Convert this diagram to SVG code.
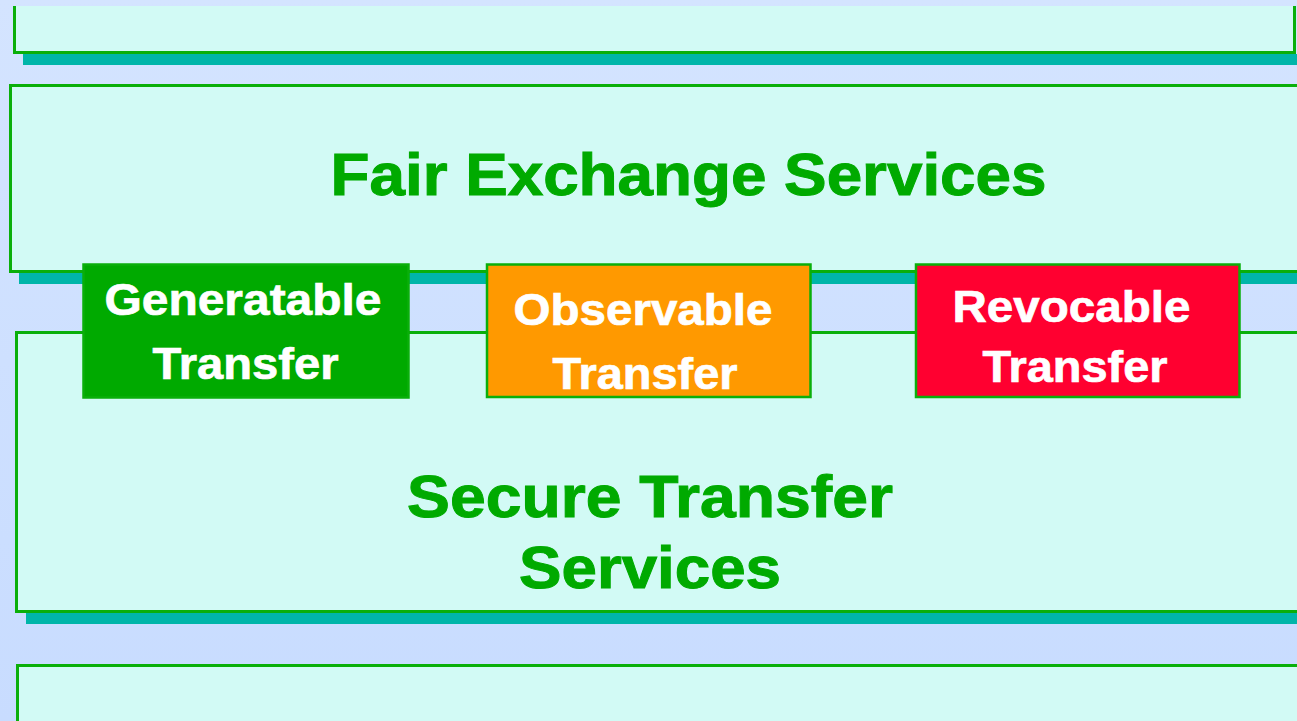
<svg xmlns="http://www.w3.org/2000/svg" width="1297" height="721" viewBox="0 0 1297 721">
  <defs>
    <linearGradient id="bg" x1="0" y1="0" x2="0" y2="1">
      <stop offset="0" stop-color="#D4E4FF"/>
      <stop offset="1" stop-color="#C8DCFF"/>
    </linearGradient>
    <style>
      .layer { fill: #D2FAF5; }
      .edge { fill: none; stroke: #0AAF0A; stroke-width: 3; }
      .shadow { fill: #00B5A9; }
      .tag { stroke: #0AAF0A; stroke-width: 2.5; }
      .big { font-family: "Liberation Sans", Arial, sans-serif; font-weight: bold; fill: #00AA00; stroke: #00AA00; stroke-width: 1; text-anchor: middle; }
      .small { font-family: "Liberation Sans", Arial, sans-serif; font-weight: bold; fill: #FFFFFF; stroke: #FFFFFF; stroke-width: 0.7; text-anchor: middle; font-size: 45px; }
    </style>
  </defs>

  <rect x="0" y="0" width="1297" height="721" fill="url(#bg)"/>

  <!-- top layer (partially visible) -->
  <g id="layer-top">
    <rect class="shadow" x="23" y="54" width="1280" height="11"/>
    <rect class="layer" x="14" y="6" width="1281" height="47"/>
    <path class="edge" d="M14.5,6 V52.5 H1294.5 V6"/>
  </g>

  <!-- fair exchange layer -->
  <g id="layer-fair-exchange">
    <rect class="shadow" x="19" y="273" width="1290" height="11"/>
    <rect class="layer" x="11" y="86" width="1300" height="185"/>
    <path class="edge" d="M1300,85.5 H10.5 V271.5 H1300"/>
    <text class="big" x="688.5" y="195" font-size="59" textLength="716" lengthAdjust="spacingAndGlyphs">Fair Exchange Services</text>
  </g>

  <!-- secure transfer layer -->
  <g id="layer-secure-transfer">
    <rect class="shadow" x="26" y="613" width="1290" height="11"/>
    <rect class="layer" x="17" y="333" width="1300" height="278"/>
    <path class="edge" d="M1300,332.5 H16.5 V611.5 H1300"/>
    <text class="big" x="650" y="517" font-size="60" textLength="486" lengthAdjust="spacingAndGlyphs">Secure Transfer</text>
    <text class="big" x="650" y="588" font-size="60" textLength="262" lengthAdjust="spacingAndGlyphs">Services</text>
  </g>

  <!-- bottom layer (partially visible) -->
  <g id="layer-bottom">
    <rect class="layer" x="18" y="666" width="1300" height="60"/>
    <path class="edge" d="M1300,665.5 H17.5 V730"/>
  </g>

  <!-- transfer property tags -->
  <g id="tag-generatable">
    <rect class="tag" x="83.5" y="264.5" width="325" height="133" fill="#00AA00" stroke="#3CC83C"/>
    <text class="small" x="243" y="315" textLength="277" lengthAdjust="spacingAndGlyphs">Generatable</text>
    <text class="small" x="245.5" y="379" textLength="186" lengthAdjust="spacingAndGlyphs">Transfer</text>
  </g>

  <g id="tag-observable">
    <rect class="tag" x="487" y="264.5" width="323.5" height="132.5" fill="#FF9900"/>
    <text class="small" x="643" y="325" textLength="259" lengthAdjust="spacingAndGlyphs">Observable</text>
    <text class="small" x="645" y="389" textLength="185" lengthAdjust="spacingAndGlyphs">Transfer</text>
  </g>

  <g id="tag-revocable">
    <rect class="tag" x="916" y="264.5" width="323.5" height="132.5" fill="#FF0030"/>
    <text class="small" x="1071.5" y="322" textLength="238" lengthAdjust="spacingAndGlyphs">Revocable</text>
    <text class="small" x="1075" y="382" textLength="185" lengthAdjust="spacingAndGlyphs">Transfer</text>
  </g>
</svg>
